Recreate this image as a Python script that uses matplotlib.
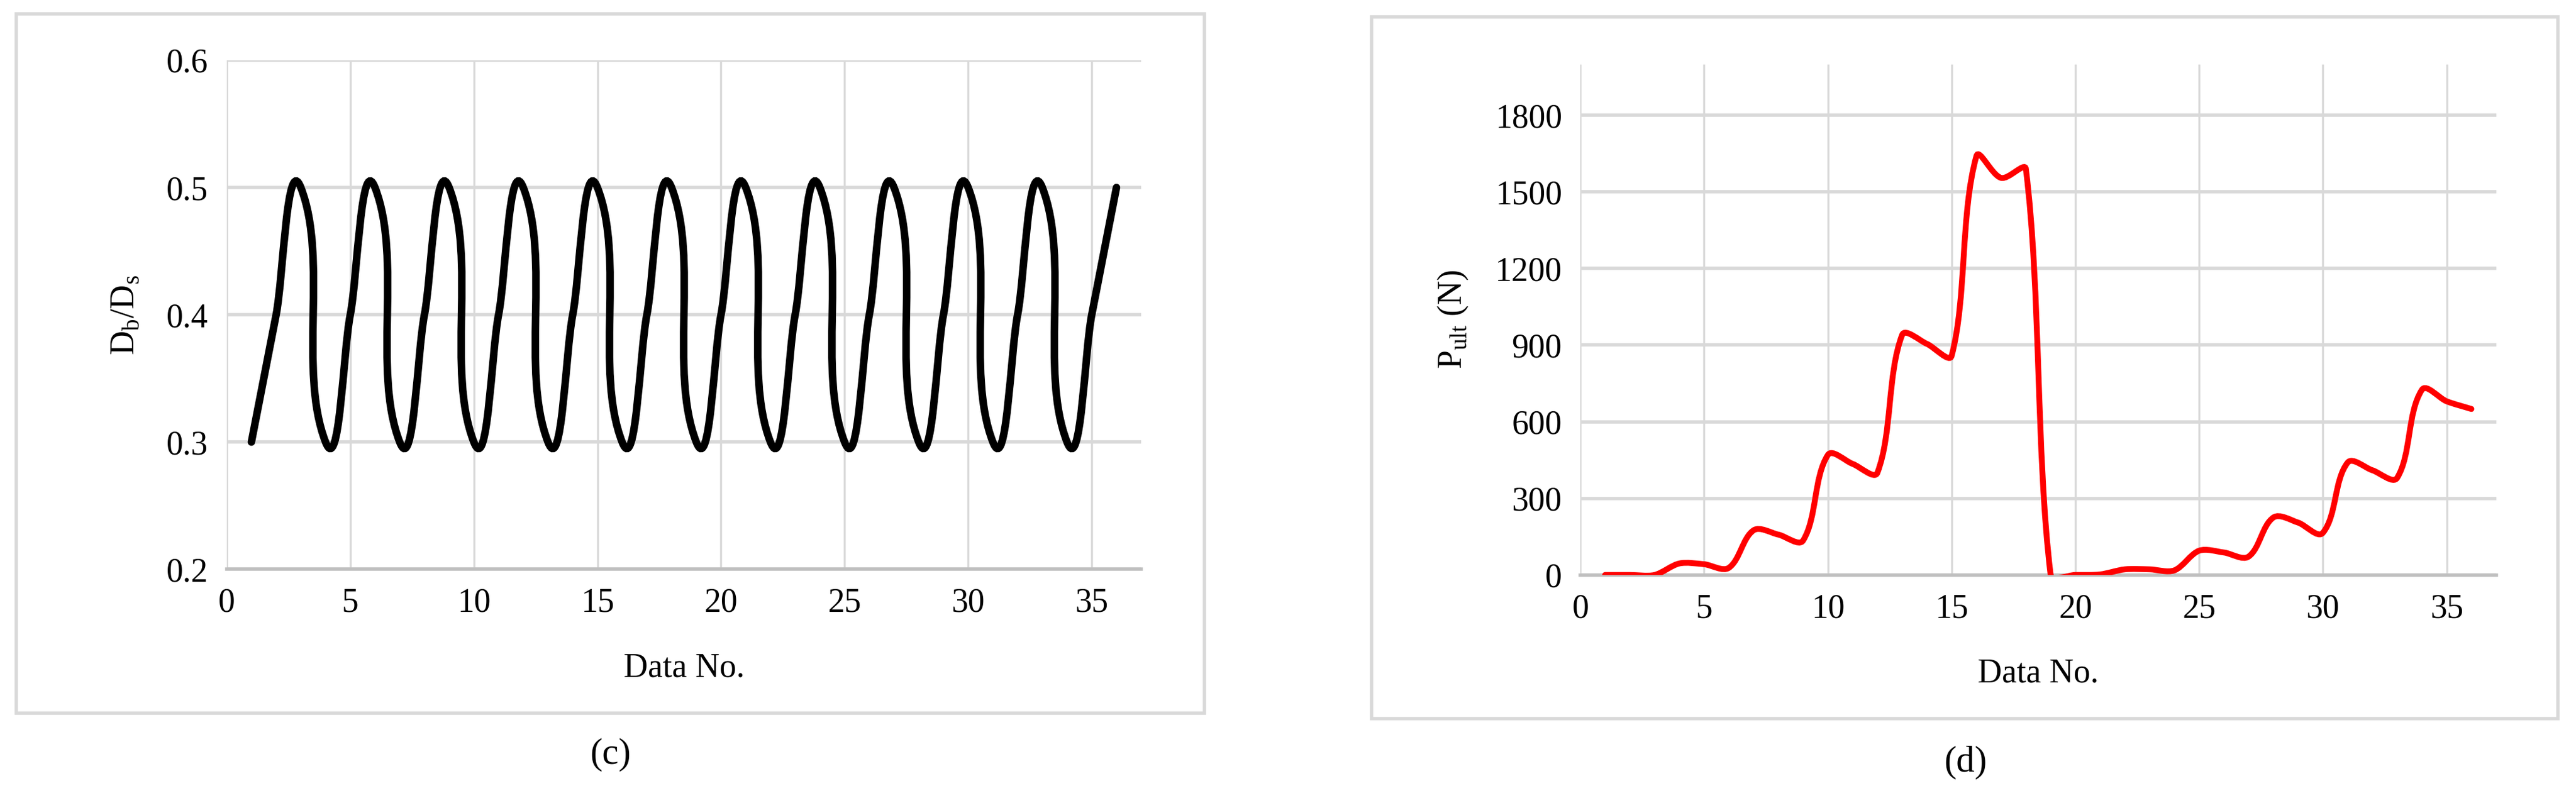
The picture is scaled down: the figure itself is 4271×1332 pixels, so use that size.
import matplotlib
matplotlib.use("Agg")
import matplotlib.pyplot as plt
from matplotlib.path import Path
from matplotlib.patches import PathPatch, Rectangle
import numpy as np

plt.rcParams["font.family"] = ["Liberation Serif", "DejaVu Serif"]

# ---------------------------------------------------------------------------
# Data
# ---------------------------------------------------------------------------
data_no = list(range(1, 37))
db_ds = [0.3, 0.4, 0.5] * 12
p_ult = [0, 0, 0, 45, 42, 28, 175, 158, 135, 470, 435, 400,
         940, 905, 858, 1640, 1555, 1590, 0, 0, 2, 22, 22, 18,
         95, 88, 72, 225, 205, 165, 440, 410, 380, 725, 680, 650]

x_ticks = [0, 5, 10, 15, 20, 25, 30, 35]
c_yticks = [0.2, 0.3, 0.4, 0.5, 0.6]
d_yticks = [0, 300, 600, 900, 1200, 1500, 1800]

GRID = "#d9d9d9"
AXIS = "#bfbfbf"


def smooth_path(xs, ys, xspan, yspan, aspect):
    """Smoothed line as cubic Bezier segments, handles limited by segment length."""
    pts = np.column_stack([xs, ys]).astype(float)
    scale = np.array([aspect / xspan, 1.0 / yspan])
    q = pts * scale  # roughly screen-proportional space
    n = len(q)
    tan = []
    for i in range(n):
        a = q[max(i - 1, 0)]
        b = q[min(i + 1, n - 1)]
        d = b - a
        tan.append(d / (np.hypot(*d) + 1e-12))
    verts = [pts[0]]
    codes = [Path.MOVETO]
    for i in range(n - 1):
        seg = np.hypot(*(q[i + 1] - q[i]))
        c1 = q[i] + tan[i] * seg * 0.3
        c2 = q[i + 1] - tan[i + 1] * seg * 0.3
        verts += [c1 / scale, c2 / scale, pts[i + 1]]
        codes += [Path.CURVE4] * 3
    return Path(verts, codes)


def style_axes(ax, yticks, ylim, fmt):
    ax.set_xlim(0, 37)
    ax.set_ylim(*ylim)
    ax.set_xticks(x_ticks)
    ax.set_yticks(yticks)
    ax.set_yticklabels([fmt(v) for v in yticks])
    for s in ["top", "right", "left"]:
        ax.spines[s].set_visible(False)
    ax.spines["bottom"].set_color(AXIS)
    ax.spines["bottom"].set_linewidth(4)
    ax.grid(True, axis="y", color=GRID, linewidth=4)
    ax.grid(True, axis="x", color=GRID, linewidth=2.5)
    ax.set_axisbelow(True)
    ax.tick_params(length=0, labelsize=40, pad=22)
    ax.set_xlabel("Data No.", fontsize=40, labelpad=40)


fig = plt.figure(figsize=(42.71, 13.32), dpi=100)

# panel frames
fig.patches.append(Rectangle((0.0064, 0.112), 0.4611, 0.871, transform=fig.transFigure,
                             fill=False, edgecolor=GRID, linewidth=4))
fig.patches.append(Rectangle((0.5325, 0.105), 0.4605, 0.874, transform=fig.transFigure,
                             fill=False, edgecolor=GRID, linewidth=4))

# (c)
ax1 = fig.add_axes([0.088, 0.291, 0.355, 0.634])
style_axes(ax1, c_yticks, (0.2, 0.6), lambda v: f"{v:.1f}")
ax1.add_patch(PathPatch(smooth_path(data_no, db_ds, 37, 0.4, 1.8), fill=False,
                        edgecolor="black", linewidth=9, capstyle="round", zorder=3))
ax1.set_ylabel(r"D$_\mathregular{b}$/D$_\mathregular{s}$", fontsize=40, labelpad=30)
fig.text(0.237, 0.06, "(c)", fontsize=44, ha="center", va="center")

# (d)
ax2 = fig.add_axes([0.6135, 0.284, 0.3555, 0.636])
style_axes(ax2, d_yticks, (0, 2000), lambda v: f"{v:d}")
ax2.add_patch(PathPatch(smooth_path(data_no, p_ult, 37, 2000, 1.8), fill=False,
                        edgecolor="#ff0000", linewidth=7, capstyle="round", zorder=3))
ax2.set_ylabel(r"P$_\mathregular{ult}$ (N)", fontsize=40, labelpad=30)
fig.text(0.763, 0.05, "(d)", fontsize=44, ha="center", va="center")

fig.savefig("out.png", dpi=100)
